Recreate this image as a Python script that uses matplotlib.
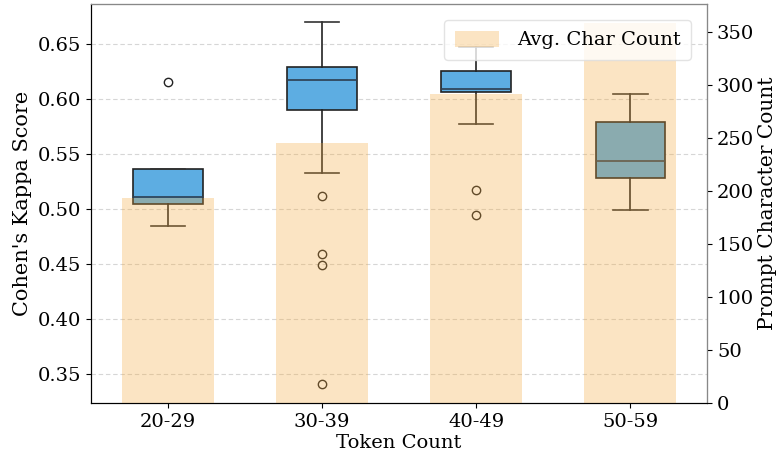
import matplotlib
matplotlib.use("Agg")
import matplotlib.pyplot as plt
import numpy as np

plt.rcParams['font.family'] = ['DejaVu Serif']

categories = ["20-29", "30-39", "40-49", "50-59"]
avg_char_count = [193, 245, 291, 358]

# box statistics (Cohen's Kappa)
box_stats = [
    dict(med=0.511, q1=0.5045, q3=0.5365, whislo=0.4845, whishi=0.5365, fliers=[0.6155]),
    dict(med=0.6173, q1=0.590, q3=0.629, whislo=0.5327, whishi=0.670, fliers=[0.5118, 0.459, 0.449, 0.341]),
    dict(med=0.609, q1=0.6064, q3=0.6255, whislo=0.5773, whishi=0.6473, fliers=[0.5173, 0.4945]),
    dict(med=0.5436, q1=0.5282, q3=0.579, whislo=0.4991, whishi=0.6045, fliers=[]),
]
for s, c in zip(box_stats, categories):
    s['label'] = c

fig = plt.figure(figsize=(7.78, 4.57), dpi=100)
ax = fig.add_axes([0.117, 0.118, 0.792, 0.873])
x = np.arange(len(categories))

ax.yaxis.grid(True, linestyle=(0, (4, 2.5)), color='#d6d6d6', linewidth=0.8)
ax.set_axisbelow(True)
ax.bxp(box_stats, positions=x, widths=0.45, patch_artist=True,
       boxprops=dict(facecolor='#5DADE2', edgecolor='#222222', linewidth=1.2),
       medianprops=dict(color='#2c3e50', linewidth=1.2),
       whiskerprops=dict(color='#222222', linewidth=1.2),
       capprops=dict(color='#333333', linewidth=1.2),
       flierprops=dict(marker='o', markerfacecolor='none', markeredgecolor='#222222', markersize=6))
ax.set_xlim(-0.5, 3.5)
ax.set_ylim(0.3236, 0.6864)
ax.set_yticks([0.35, 0.40, 0.45, 0.50, 0.55, 0.60, 0.65])
ax.set_yticklabels([f"{v:.2f}" for v in [0.35, 0.40, 0.45, 0.50, 0.55, 0.60, 0.65]])
ax.set_xticks(x)
ax.set_xticklabels(categories)
ax.set_xlabel("Token Count", fontsize=14, labelpad=2)
ax.set_ylabel("Cohen's Kappa Score", fontsize=15, labelpad=4)
ax.tick_params(labelsize=14)

ax2 = ax.twinx()
ax2.bar(x, avg_char_count, width=0.6, color='#F5A83A', alpha=0.3, label='Avg. Char Count')
ax2.set_ylim(0, 376)
ax2.set_yticks([0, 50, 100, 150, 200, 250, 300, 350])
ax2.set_ylabel("Prompt Character Count", fontsize=14.5, labelpad=3)
ax2.tick_params(labelsize=14)
for sp in ['right', 'top']:
    ax2.spines[sp].set_color('#888888')
ax2.legend(loc='upper right', fontsize=14, framealpha=0.8, handlelength=2.3,
           handleheight=0.9, borderpad=0.55, handletextpad=0.9,
           bbox_to_anchor=(0.99, 0.985), edgecolor='#dddddd')

fig.savefig("out.png", dpi=100)
